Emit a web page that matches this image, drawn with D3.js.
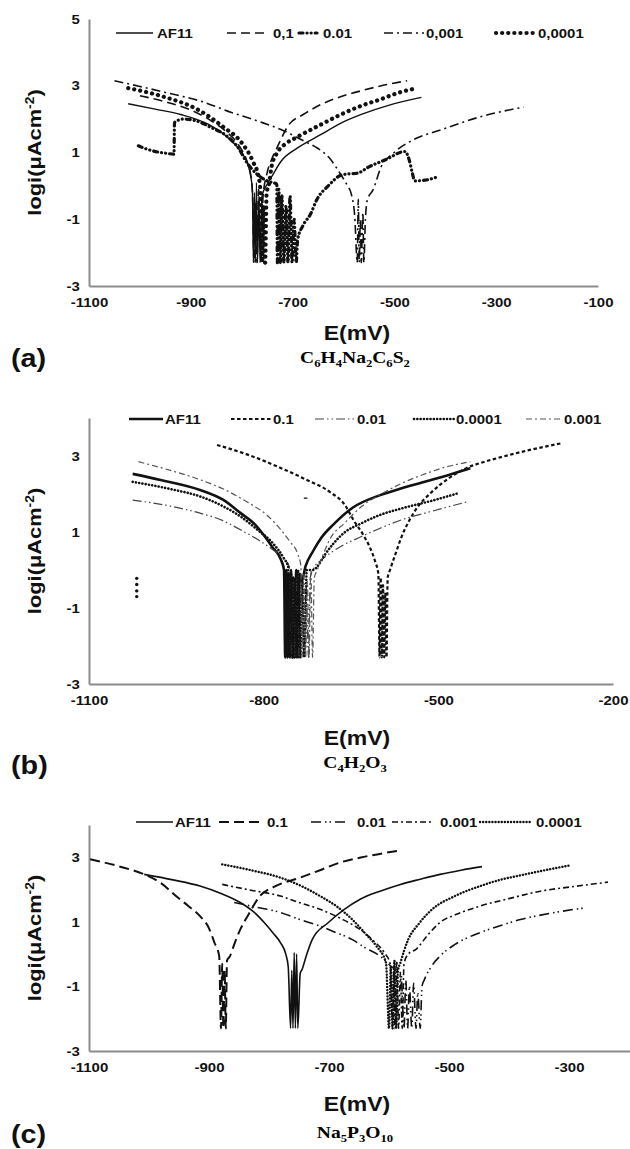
<!DOCTYPE html>
<html>
<head>
<meta charset="utf-8">
<script src="https://cdn.jsdelivr.net/npm/d3@7"></script>
<style>
  body { margin: 0; background: #fff; }
  svg { display: block; }
</style>
</head>
<body>
<svg id="chart" width="630" height="1149"></svg>
<script>
// ---- panel (a) ----
const xTicksA = [-1100, -900, -700, -500, -300, -100];
const yTicksA = [-3, -1, 1, 3, 5];
const legendA = ["AF11", "0,1", "0.01", "0,001", "0,0001"];
const formulaA = "C6H4Na2C6S2";

const aAF11 = [[-1023, 2.46], [-970, 2.3], [-920, 2.14], [-865, 1.84], [-826, 1.43], [-802, 1.03], [-786, 0.54], [-779, -0.1],
    [-777, -2.3], [-775, -0.2], [-773, -2.3], [-771, 0.1], [-769, -2.3], [-766, -0.4], [-764, -2.3], [-760, -0.3],
    [-750, 0.05], [-739, 0.33], [-723, 0.73], [-691, 1.13], [-644, 1.54], [-605, 1.88], [-565, 2.14], [-510, 2.42], [-447, 2.65]];
const aC1 = [[-1000, 2.7], [-950, 2.52], [-900, 2.27], [-860, 1.95], [-830, 1.62], [-805, 1.2], [-790, 0.75], [-781, 0.2], [-778, -0.6],
    [-776, -2.3], [-773, -0.5], [-770, -2.3], [-767, -0.1], [-762, -2.3], [-758, -0.3], [-751, 0.33], [-741, 0.8], [-731, 1.13],
    [-707, 1.84], [-680, 2.13], [-644, 2.44], [-600, 2.7], [-565, 2.85], [-520, 3.02], [-475, 3.15]];
const aC2 = [[-1003, 1.2], [-990, 1.12], [-975, 1.05], [-960, 1.0], [-945, 0.97], [-933, 0.95], [-932, 1.9], [-915, 2.0], [-890, 1.95],
    [-860, 1.75], [-830, 1.5], [-805, 1.1], [-790, 0.7], [-770, 0.35], [-750, 0.15], [-731, 0.05], [-730, -2.3], [-727, -0.1],
    [-724, -2.3], [-721, -0.3], [-717, -2.3], [-713, -0.6], [-709, -2.3], [-705, -0.3], [-701, -2.3], [-697, -1.0], [-693, -2.3],
    [-690, -1.6], [-680, -1.2], [-665, -0.85], [-652, -0.4], [-630, 0.0], [-605, 0.32], [-590, 0.36], [-573, 0.38], [-550, 0.57],
    [-518, 0.78], [-479, 1.03], [-471, 0.78], [-465, 0.4], [-460, 0.15], [-440, 0.17], [-419, 0.25]];
const aC3 = [[-1050, 3.15], [-1000, 2.98], [-950, 2.8], [-881, 2.54], [-820, 2.2], [-770, 1.95], [-723, 1.69], [-676, 1.33], [-650, 1.12],
    [-628, 0.84], [-605, 0.33], [-592, 0.0], [-585, -0.23], [-578, -0.9], [-573, -2.3], [-571, -0.4], [-569, -2.3], [-567, -1.0],
    [-565, -2.3], [-562, -0.8], [-560, -2.3], [-557, -1.0], [-553, -0.42], [-542, -0.12], [-526, 0.57], [-502, 0.98], [-463, 1.38],
    [-408, 1.68], [-329, 2.08], [-246, 2.36]];
const aC4 = [[-1023, 2.93], [-960, 2.7], [-881, 2.24], [-834, 1.74], [-802, 1.33], [-778, 0.73], [-766, 0.22], [-762, -0.5], [-760, -2.3],
    [-757, -0.6], [-754, -2.3], [-751, -0.2], [-747, 0.0], [-741, 0.6], [-730, 1.0], [-715, 1.25], [-695, 1.43], [-644, 1.84],
    [-605, 2.14], [-565, 2.4], [-526, 2.6], [-490, 2.8], [-455, 2.93]];

// ---- panel (b) ----
const xTicksB = [-1100, -800, -500, -200];
const yTicksB = [-3, -1, 1, 3];
const legendB = ["AF11", "0.1", "0.01", "0.0001", "0.001"];
const formulaB = "C4H2O3";

const bAF11 = [[-1025, 2.53], [-977, 2.37], [-908, 2.1], [-870, 1.85], [-839, 1.49], [-815, 1.2], [-798, 0.88], [-785, 0.6], [-770, 0.26],
    [-765, 0.0], [-763, -2.3], [-761, 0.0], [-759, -2.3], [-757, -0.1], [-755, -2.3], [-753, 0.0], [-751, -2.3], [-749, -0.2],
    [-747, -2.3], [-744, 0.0], [-741, -2.3], [-738, -0.1], [-735, -0.3], [-728, 0.1], [-715, 0.5], [-701, 0.85], [-680, 1.2],
    [-646, 1.65], [-600, 1.97], [-563, 2.15], [-528, 2.3], [-494, 2.45], [-445, 2.68]];
const bC1 = [[-880, 3.29], [-830, 3.05], [-770, 2.68], [-730, 2.4], [-687, 2.06], [-660, 1.7], [-646, 1.32], [-630, 0.95], [-618, 0.61],
    [-608, 0.2], [-603, -0.1], [-601, -2.3], [-599, -0.2], [-597, -2.3], [-595, -0.4], [-593, -2.3], [-591, -0.6], [-589, -2.3],
    [-587, -0.2], [-583, 0.0], [-573, 0.45], [-563, 0.88], [-550, 1.3], [-535, 1.67], [-515, 2.0], [-494, 2.28], [-452, 2.68],
    [-420, 2.85], [-390, 2.98], [-340, 3.17], [-290, 3.33]];
const bC2 = [[-1025, 1.84], [-960, 1.68], [-908, 1.49], [-870, 1.3], [-839, 1.05], [-810, 0.8], [-784, 0.53], [-765, 0.3], [-756, 0.09],
    [-752, -2.3], [-749, -0.3], [-746, -2.3], [-743, -0.2], [-739, -2.3], [-735, -0.1], [-731, -2.3], [-727, -0.4], [-723, -2.3],
    [-720, -0.2], [-712, 0.1], [-701, 0.26], [-670, 0.6], [-632, 0.88], [-600, 1.1], [-563, 1.32], [-510, 1.55], [-449, 1.8]];
const bC3 = [[-1025, 2.32], [-960, 2.13], [-908, 1.93], [-870, 1.68], [-839, 1.4], [-810, 1.05], [-784, 0.7], [-765, 0.3], [-758, 0.09],
    [-756, -2.3], [-753, -0.1], [-750, -2.3], [-747, -0.3], [-744, -2.3], [-741, 0.0], [-737, -2.3], [-734, -0.2], [-730, -2.3],
    [-726, 0.0], [-715, 0.0], [-708, 0.09], [-695, 0.4], [-680, 0.7], [-660, 1.0], [-632, 1.23], [-600, 1.45], [-563, 1.62],
    [-507, 1.84], [-466, 2.02]];
const bC4 = [[-1015, 2.85], [-960, 2.62], [-908, 2.37], [-865, 2.1], [-825, 1.76], [-795, 1.45], [-770, 1.05], [-755, 0.75], [-742, 0.44],
    [-736, 0.1], [-734, -2.3], [-731, -0.1], [-728, -2.3], [-725, -0.3], [-722, -2.3], [-719, 0.0], [-716, -2.3], [-713, -0.2],
    [-708, 0.0], [-698, 0.4], [-687, 0.79], [-660, 1.25], [-632, 1.67], [-600, 1.98], [-563, 2.28], [-528, 2.5], [-494, 2.68], [-445, 2.85]];
const bStray = [[-1018, -0.22], [-1018, -0.38], [-1018, -0.55], [-1018, -0.7]];
const bMark = [[-731, 1.89], [-725, 1.89]];

// ---- panel (c) ----
const xTicksC = [-1100, -900, -700, -500, -300];
const yTicksC = [-3, -1, 1, 3];
const legendC = ["AF11", "0.1", "0.01", "0.001", "0.0001"];
const formulaC = "Na5P3O10";

const cAF11 = [[-1008, 2.47], [-960, 2.3], [-915, 2.11], [-880, 1.88], [-848, 1.6], [-825, 1.3], [-808, 0.98], [-793, 0.65], [-781, 0.36],
    [-772, 0.0], [-768, -0.38], [-764, -2.3], [-762, -0.5], [-760, -2.3], [-758, 0.05], [-756, -2.3], [-754, 0.0], [-752, -2.3],
    [-748, -0.6], [-745, -0.48], [-737, 0.0], [-728, 0.45], [-701, 0.98], [-675, 1.38], [-648, 1.7], [-615, 1.95], [-581, 2.16],
    [-548, 2.32], [-515, 2.47], [-480, 2.6], [-445, 2.71]];
const cC1 = [[-1098, 2.94], [-1050, 2.72], [-1008, 2.47], [-980, 2.2], [-955, 1.8], [-935, 1.5], [-915, 1.18], [-900, 0.8], [-891, 0.36],
    [-883, -0.06], [-880, -2.3], [-878, -0.3], [-876, -2.3], [-874, -0.5], [-872, -2.3], [-870, -0.2], [-865, -0.06], [-857, 0.35],
    [-848, 0.76], [-835, 1.2], [-815, 1.8], [-790, 2.1], [-748, 2.37], [-715, 2.6], [-681, 2.84], [-640, 3.02], [-585, 3.2]];
const cC2 = [[-858, 1.6], [-820, 1.45], [-781, 1.29], [-750, 1.08], [-715, 0.87], [-690, 0.68], [-661, 0.45], [-640, 0.2], [-615, -0.06],
    [-595, -0.4], [-580, -0.6], [-575, -2.3], [-572, -0.8], [-569, -2.3], [-566, -1.0], [-562, -2.3], [-559, -0.9], [-555, -2.3],
    [-552, -1.2], [-548, -2.3], [-545, -1.0], [-541, -0.79], [-530, -0.4], [-515, -0.06], [-490, 0.3], [-448, 0.67], [-415, 0.88],
    [-381, 1.07], [-330, 1.27], [-271, 1.44]];
const cC3 = [[-878, 2.16], [-830, 1.98], [-781, 1.8], [-750, 1.6], [-715, 1.39], [-680, 1.1], [-648, 0.76], [-625, 0.4], [-608, 0.05],
    [-598, -0.3], [-594, -2.3], [-592, -0.5], [-590, -2.3], [-587, -0.2], [-584, -2.3], [-581, -0.6], [-578, -2.3], [-575, -0.3],
    [-568, 0.0], [-555, 0.15], [-535, 0.6], [-515, 0.98], [-485, 1.25], [-448, 1.49], [-400, 1.72], [-348, 1.95], [-290, 2.1], [-235, 2.23]];
const cC4 = [[-878, 2.78], [-830, 2.6], [-781, 2.37], [-745, 2.1], [-715, 1.8], [-685, 1.45], [-661, 1.07], [-640, 0.65], [-621, 0.25],
    [-605, -0.27], [-600, -2.3], [-597, -0.4], [-594, -2.3], [-591, -0.2], [-588, -2.3], [-585, -0.5], [-581, -0.27], [-575, 0.1],
    [-568, 0.45], [-550, 0.95], [-528, 1.39], [-490, 1.8], [-448, 2.11], [-415, 2.3], [-381, 2.44], [-340, 2.6], [-298, 2.75]];

const SANS = "'Liberation Sans', Arial, sans-serif";
const SERIF = "'Liberation Serif', 'Times New Roman', serif";
const STRETCH = "scale(1.15,1)";

const svg = d3.select("#chart");

// layout + styles for each panel
const panels = [
    {
        xDomain: [-1100, -100], xRange: [89, 598], yDomain: [-3, 5], yRange: [286, 19],
        xTicks: xTicksA, yTicks: yTicksA, names: legendA, series: [aAF11, aC1, aC2, aC3, aC4],
        styles: [
            { w: 1.4 },
            { w: 1.6, dash: "9 5" },
            { w: 3.2, dash: "4 4 0.1 4 0.1 4", cap: "round" },
            { w: 1.6, dash: "9 4 2 4" },
            { w: 4.2, dash: "0.1 6", cap: "round" }
        ],
        legendY: 33, legendLine: [[116, 153], [227, 269], [299, 317], [384, 424], [496, 536]],
        legendText: [157, 273, 323, 426, 538],
        xTitleY: 333, tag: "(a)", tagY: 358, formula: formulaA, formulaY: 363
    },
    {
        xDomain: [-1100, -200], xRange: [89, 613], yDomain: [-3, 4], yRange: [684, 418],
        xTicks: xTicksB, yTicks: yTicksB, names: legendB, series: [bAF11, bC1, bC2, bC3, bC4],
        styles: [
            { w: 2.6 },
            { w: 2.2, dash: "3.5 2.5" },
            { w: 1.2, dash: "9 3 1.5 3 1.5 3", color: "#444" },
            { w: 2.6, dash: "0.1 3.2", cap: "round" },
            { w: 1.2, dash: "6 3 2 3", color: "#555" }
        ],
        legendY: 419, legendLine: [[129, 163], [231, 271], [315, 355], [414, 454], [526, 562]],
        legendText: [165, 273, 357, 456, 564],
        xTitleY: 738, tag: "(b)", tagY: 765, formula: formulaB, formulaY: 768
    },
    {
        xDomain: [-1100, -100], xRange: [89, 689], yDomain: [-3, 4], yRange: [1051, 825],
        xTicks: xTicksC, yTicks: yTicksC, names: legendC, series: [cAF11, cC1, cC2, cC3, cC4],
        styles: [
            { w: 1.6 },
            { w: 2, dash: "10 5" },
            { w: 1.6, dash: "10 4 1.5 3 1.5 4" },
            { w: 1.6, dash: "6 3 2 3" },
            { w: 2.4, dash: "0.1 3", cap: "round" }
        ],
        legendY: 822, legendLine: [[136, 173], [219, 261], [311, 345], [392, 432], [480, 530]],
        legendText: [175, 267, 357, 440, 536],
        xTitleY: 1104, tag: "(c)", tagY: 1134, formula: formulaC, formulaY: 1138
    }
];

function styleLine(sel, st) {
    sel.attr("fill", "none")
        .attr("stroke", st.color || "#111")
        .attr("stroke-width", st.w)
        .attr("stroke-linecap", st.cap || "butt")
        .attr("stroke-linejoin", "round")
        .attr("stroke-dasharray", st.dash || null);
}

// chemical formula: digits become subscripts
function drawFormula(g, cx, cy, text) {
    const t = g.append("text")
        .attr("transform", `translate(${cx},${cy}) ${STRETCH}`)
        .attr("text-anchor", "middle")
        .attr("dy", "0.35em")
        .attr("font-family", SERIF)
        .attr("font-weight", "bold")
        .attr("font-size", 17);
    const parts = text.match(/[0-9]+|[^0-9]+/g);
    let down = false;
    parts.forEach(p => {
        const isNum = /[0-9]/.test(p);
        const ts = t.append("tspan").text(p);
        if (isNum) {
            ts.attr("font-size", 11).attr("dy", down ? 0 : 4);
            down = true;
        } else {
            ts.attr("dy", down ? -4 : 0);
            down = false;
        }
    });
}

function drawPanel(p) {
    const x = d3.scaleLinear().domain(p.xDomain).range(p.xRange);
    const y = d3.scaleLinear().domain(p.yDomain).range(p.yRange);
    const g = svg.append("g");

    // axes (no tick marks, grey domain lines)
    const yAxis = g.append("g")
        .attr("transform", `translate(${p.xRange[0]},0)`)
        .call(d3.axisLeft(y).tickValues(p.yTicks).tickSize(0).tickSizeOuter(0).tickPadding(8).tickFormat(d3.format("d")));
    const xAxis = g.append("g")
        .attr("transform", `translate(0,${p.yRange[0]})`)
        .call(d3.axisBottom(x).tickValues(p.xTicks).tickSize(0).tickSizeOuter(0).tickPadding(12).tickFormat(d3.format("d")));

    [yAxis, xAxis].forEach(a => {
        a.select(".domain").attr("stroke", "#8c8c8c").attr("stroke-width", 2);
        a.selectAll("text")
            .attr("font-family", SANS)
            .attr("font-weight", "bold")
            .attr("font-size", 13)
            .attr("fill", "#111")
            .attr("transform", STRETCH)
            .text(d => String(d));
    });

    // curves (E increases along every series, so monotone smoothing is safe)
    const line = d3.line().x(d => x(d[0])).y(d => y(d[1])).curve(d3.curveMonotoneX);
    p.series.forEach((s, i) => {
        g.append("path").datum(s).attr("d", line).call(styleLine, p.styles[i]);
    });

    // legend
    p.names.forEach((name, i) => {
        const [x0, x1] = p.legendLine[i];
        g.append("line")
            .attr("x1", x0).attr("x2", x1)
            .attr("y1", p.legendY).attr("y2", p.legendY)
            .call(styleLine, p.styles[i]);
        g.append("text")
            .attr("transform", `translate(${p.legendText[i]},${p.legendY}) ${STRETCH}`)
            .attr("dy", "0.35em")
            .attr("font-family", SANS)
            .attr("font-weight", "bold")
            .attr("font-size", 13)
            .attr("fill", "#111")
            .text(name);
    });

    // axis titles
    const midY = (p.yRange[0] + p.yRange[1]) / 2;
    const yt = g.append("text")
        .attr("transform", `translate(34,${midY}) rotate(-90) ${STRETCH}`)
        .attr("text-anchor", "middle")
        .attr("dy", "0.35em")
        .attr("font-family", SANS)
        .attr("font-weight", "bold")
        .attr("font-size", 19)
        .attr("fill", "#111");
    yt.append("tspan").text("logi(\u03bcAcm");
    yt.append("tspan").attr("font-size", 12).attr("dy", -7).text("-2");
    yt.append("tspan").attr("dy", 7).text(")");

    g.append("text")
        .attr("transform", `translate(357,${p.xTitleY}) ${STRETCH}`)
        .attr("text-anchor", "middle")
        .attr("dy", "0.35em")
        .attr("font-family", SANS)
        .attr("font-weight", "bold")
        .attr("font-size", 20)
        .attr("fill", "#111")
        .text("E(mV)");

    g.append("text")
        .attr("transform", `translate(11,${p.tagY}) ${STRETCH}`)
        .attr("dy", "0.35em")
        .attr("font-family", SANS)
        .attr("font-weight", "bold")
        .attr("font-size", 25)
        .attr("fill", "#111")
        .text(p.tag);

    drawFormula(g, 355, p.formulaY, p.formula);

    return { g, x, y };
}

const drawn = panels.map(drawPanel);

// stray marks in panel (b)
const pb = drawn[1];
pb.g.selectAll("circle.stray")
    .data(bStray)
    .enter()
    .append("circle")
    .attr("class", "stray")
    .attr("cx", d => pb.x(d[0]))
    .attr("cy", d => pb.y(d[1]))
    .attr("r", 1.7)
    .attr("fill", "#111");
pb.g.append("path")
    .datum(bMark)
    .attr("d", d3.line().x(d => pb.x(d[0])).y(d => pb.y(d[1])))
    .attr("stroke", "#333")
    .attr("stroke-width", 1.5);
</script>
</body>
</html>
